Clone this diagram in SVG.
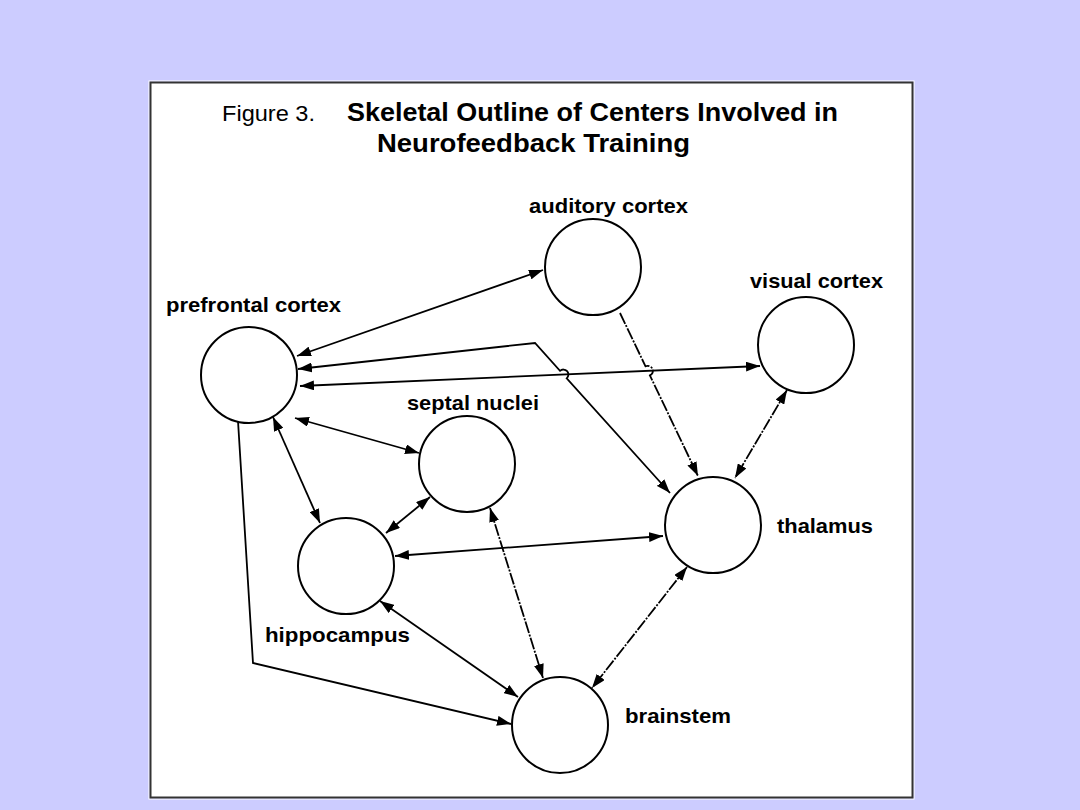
<svg xmlns="http://www.w3.org/2000/svg" width="1080" height="810" viewBox="0 0 1080 810">
<style>
.node{fill:#fff;stroke:#000;stroke-width:2}
.lbl{font-family:"Liberation Sans",Arial,sans-serif;font-weight:bold;font-size:21px;fill:#000}
.edge{fill:none;stroke:#000;stroke-width:1.8}
.dd{stroke-dasharray:12 1.5 2 1.5}
</style>
<defs>
<marker id="ah" markerUnits="userSpaceOnUse" markerWidth="14" markerHeight="10" refX="14" refY="5" orient="auto-start-reverse">
<path d="M0,0 L14,5 L0,10 z" fill="#000"/>
</marker>
</defs>
<rect x="0" y="0" width="1080" height="810" fill="#CCCCFF"/>
<rect x="149" y="81" width="765" height="718" fill="none" stroke="#fff" stroke-width="1"/>
<rect x="150.5" y="82.5" width="762" height="715" fill="#fff" stroke="#333" stroke-width="2"/>
<g id="title">
<text x="222" y="121" font-family="'Liberation Sans',Arial,sans-serif" font-size="22" textLength="93" lengthAdjust="spacingAndGlyphs">Figure 3.</text>
<text x="347" y="121" font-family="'Liberation Sans',Arial,sans-serif" font-weight="bold" font-size="26" textLength="491" lengthAdjust="spacingAndGlyphs">Skeletal Outline of Centers Involved in</text>
<text x="377" y="152" font-family="'Liberation Sans',Arial,sans-serif" font-weight="bold" font-size="26" textLength="313" lengthAdjust="spacingAndGlyphs">Neurofeedback Training</text>
</g>
<g id="connectors">
<path class="edge" d="M297,356 L543,270" marker-start="url(#ah)" marker-end="url(#ah)"/>
<path class="edge" d="M300,386 L760,366" marker-start="url(#ah)" marker-end="url(#ah)"/>
<path class="edge" d="M298,369 L535,343 L560,370.8 A5,5 0 0 1 566.7,378.3 L670,493" marker-start="url(#ah)" marker-end="url(#ah)"/>
<path class="edge dd" d="M620,313 L645.5,366.3 A5,5 0 0 1 649.9,375.4 L698,476" marker-end="url(#ah)"/>
<path class="edge dd" d="M787,390 L735,478" marker-start="url(#ah)" marker-end="url(#ah)"/>
<path class="edge" d="M295,418 L419,453" marker-start="url(#ah)" marker-end="url(#ah)"/>
<path class="edge" d="M273,417 L320,523" marker-start="url(#ah)" marker-end="url(#ah)"/>
<path class="edge" d="M430,497 L386,533" marker-start="url(#ah)" marker-end="url(#ah)"/>
<path class="edge" d="M395,556 L663,536" marker-start="url(#ah)" marker-end="url(#ah)"/>
<path class="edge dd" d="M490,508 L543,678" marker-start="url(#ah)" marker-end="url(#ah)"/>
<path class="edge" d="M380,601 L518,697" marker-start="url(#ah)" marker-end="url(#ah)"/>
<path class="edge dd" d="M687,567 L592,688" marker-start="url(#ah)" marker-end="url(#ah)"/>
<path class="edge" d="M238,421 L253,663 L511,724" marker-end="url(#ah)"/>
</g>
<g id="auditory-cortex">
<circle class="node" cx="593" cy="267" r="48"/>
<text class="lbl" x="529" y="213" textLength="159" lengthAdjust="spacingAndGlyphs">auditory cortex</text>
</g>
<g id="visual-cortex">
<circle class="node" cx="806" cy="345" r="48"/>
<text class="lbl" x="750" y="288" textLength="133" lengthAdjust="spacingAndGlyphs">visual cortex</text>
</g>
<g id="prefrontal-cortex">
<circle class="node" cx="249" cy="375" r="48"/>
<text class="lbl" x="166" y="312" textLength="175" lengthAdjust="spacingAndGlyphs">prefrontal cortex</text>
</g>
<g id="septal-nuclei">
<circle class="node" cx="467" cy="464" r="48"/>
<text class="lbl" x="407" y="410" textLength="132" lengthAdjust="spacingAndGlyphs">septal nuclei</text>
</g>
<g id="hippocampus">
<circle class="node" cx="346" cy="566" r="48"/>
<text class="lbl" x="265" y="642" textLength="145" lengthAdjust="spacingAndGlyphs">hippocampus</text>
</g>
<g id="thalamus">
<circle class="node" cx="713" cy="525" r="48"/>
<text class="lbl" x="777" y="533" textLength="96" lengthAdjust="spacingAndGlyphs">thalamus</text>
</g>
<g id="brainstem">
<circle class="node" cx="560" cy="725" r="48"/>
<text class="lbl" x="625" y="723" textLength="106" lengthAdjust="spacingAndGlyphs">brainstem</text>
</g>
</svg>
